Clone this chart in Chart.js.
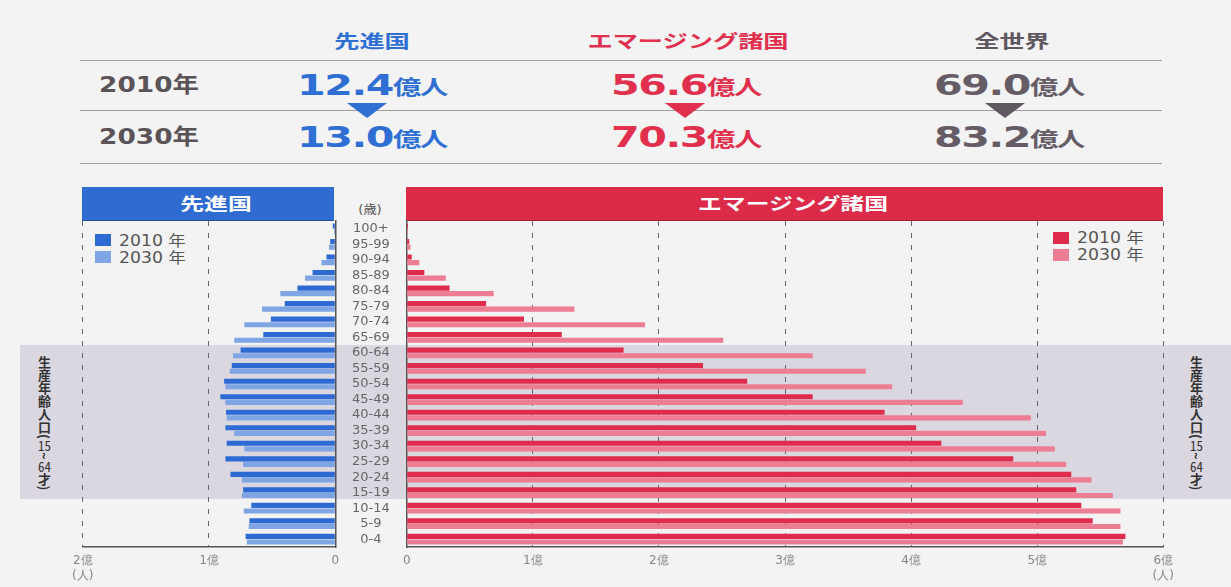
<!DOCTYPE html>
<html><head><meta charset="utf-8">
<script src="https://cdn.jsdelivr.net/npm/chart.js@4.4.1/dist/chart.umd.min.js"></script>
<style>
html,body{margin:0;padding:0;background:#f2f2f2;}
#wrap{position:relative;width:1231px;height:587px;overflow:hidden;background:#f3f3f3;font-family:"DejaVu Sans","Noto Sans CJK JP",sans-serif;}
.hl{position:absolute;left:80px;width:1082px;height:0;border-top:1.5px solid #a09ca0;}
.t{position:absolute;white-space:nowrap;transform:translate(-50%,-50%) scaleX(1.4);font-weight:bold;line-height:1;}
.num{font-size:29px;}
.unit{font-size:20px;}
.tri{position:absolute;width:0;height:0;border-left:20px solid transparent;border-right:20px solid transparent;border-top:15px solid #000;}
.band{position:absolute;left:20px;top:345px;width:1211px;height:154px;background:#dbd7e0;}
.hdr{position:absolute;top:187px;height:33px;border-bottom:1.5px solid rgba(0,0,0,0.25);}
.hdr span{position:absolute;top:50%;white-space:nowrap;color:#fff;font-weight:bold;font-size:17px;transform:translate(-50%,-50%) scaleX(1.4);line-height:1;}
.lg{position:absolute;width:16px;height:12px;}
.lt{position:absolute;white-space:nowrap;font-size:15px;color:#555;transform:translateY(-50%) scaleX(1.15);transform-origin:left center;line-height:1;}
.side{position:absolute;top:356px;writing-mode:vertical-rl;font-size:13px;font-weight:bold;color:#333;line-height:1;font-family:"Noto Sans CJK JP",sans-serif;}
.side .c{text-combine-upright:all;font-weight:normal;}
canvas{position:absolute;left:0;top:0;}
</style>
</head>
<body>
<div id="wrap">
  <div class="band"></div>

  <!-- top summary table -->
  <div class="t" style="left:372px;top:42px;font-size:18px;color:#2f6fd3;">先進国</div>
  <div class="t" style="left:688px;top:42px;font-size:18px;color:#e0304e;">エマージング諸国</div>
  <div class="t" style="left:1012px;top:42px;font-size:18px;color:#5f5860;">全世界</div>
  <div class="hl" style="top:60px;"></div>
  <div class="hl" style="top:110px;"></div>
  <div class="hl" style="top:163px;"></div>
  <div class="t" style="left:149px;top:85px;font-size:22px;color:#5a5358;transform:translate(-50%,-50%) scaleX(1.2);">2010年</div>
  <div class="t" style="left:149px;top:137px;font-size:22px;color:#5a5358;transform:translate(-50%,-50%) scaleX(1.2);">2030年</div>
  <div id="vals"></div>
  <div class="tri" style="left:347px;top:103px;border-top-color:#2f6fd3;"></div>
  <div class="tri" style="left:665px;top:103px;border-top-color:#e0304e;"></div>
  <div class="tri" style="left:985px;top:103px;border-top-color:#5f5860;"></div>

  <!-- panel headers -->
  <div class="hdr" style="left:82px;width:252px;background:#2f6cd2;"><span style="left:134px;">先進国</span></div>
  <div class="hdr" style="left:406px;width:757px;background:#dc2a49;"><span style="left:387px;">エマージング諸国</span></div>
  <div class="t" style="left:370px;top:210px;font-size:12px;font-weight:normal;color:#555;transform:translate(-50%,-50%) scaleX(1.1);">(歳)</div>

  <!-- legends -->
  <div class="lg" style="left:95px;top:234px;background:#2d6ad3;"></div>
  <div class="lt" style="left:119px;top:241px;">2010 年</div>
  <div class="lg" style="left:95px;top:251px;background:#7fa5e5;"></div>
  <div class="lt" style="left:119px;top:258px;">2030 年</div>
  <div class="lg" style="left:1053px;top:232px;background:#df2c4c;"></div>
  <div class="lt" style="left:1077px;top:238px;">2010 年</div>
  <div class="lg" style="left:1053px;top:249px;background:#ec7d93;"></div>
  <div class="lt" style="left:1077px;top:255px;">2030 年</div>

  <!-- side labels -->
  <div class="side" style="left:38px;">生産年齢人口(<span class="c">15</span>~<span class="c">64</span>才)</div>
  <div class="side" style="left:1190px;">生産年齢人口(<span class="c">15</span>~<span class="c">64</span>才)</div>

  <canvas id="cL" width="1231" height="587"></canvas>
  <canvas id="cR" width="1231" height="587"></canvas>
</div>
<script>
// ---- data ----
const ages = ['100+','95-99','90-94','85-89','80-84','75-79','70-74','65-69','60-64','55-59','50-54','45-49','40-44','35-39','30-34','25-29','20-24','15-19','10-14','5-9','0-4'];
// 先進国 (億人)
const adv2010 = [0.02,0.04,0.07,0.18,0.30,0.40,0.51,0.57,0.75,0.82,0.88,0.91,0.865,0.87,0.86,0.87,0.83,0.73,0.665,0.68,0.71];
const adv2030 = [0.01,0.05,0.11,0.24,0.435,0.58,0.72,0.80,0.81,0.835,0.87,0.87,0.86,0.80,0.72,0.73,0.74,0.74,0.725,0.685,0.70];
// エマージング諸国 (億人)
const emg2010 = [0.01,0.02,0.04,0.14,0.34,0.63,0.93,1.23,1.72,2.35,2.70,3.22,3.79,4.04,4.24,4.81,5.27,5.31,5.35,5.44,5.70];
const emg2030 = [0.01,0.03,0.10,0.31,0.69,1.33,1.89,2.51,3.22,3.64,3.85,4.41,4.95,5.07,5.14,5.23,5.43,5.60,5.66,5.66,5.68];
// summary table
const groups = ['先進国','エマージング諸国','全世界'];
const total2010 = ['12.4','56.6','69.0'];
const total2030 = ['13.0','70.3','83.2'];
// tick labels
const leftTickLabels = ['0','1億','2億'];
const rightTickLabels = ['0','1億','2億','3億','4億','5億','6億'];
const unitLabel = '(人)';

// ---- summary values ----
const colX = [372, 686, 1009];
const colC = ['#2f6fd3', '#e0304e', '#655c66'];
const vals = document.getElementById('vals');
[[total2010, 85], [total2030, 137]].forEach(([arr, y]) => {
  arr.forEach((v, i) => {
    const d = document.createElement('div');
    d.className = 't';
    d.style.cssText = `left:${colX[i]}px;top:${y}px;color:${colC[i]};transform:translate(-50%,-50%) scaleX(1.42);letter-spacing:-1px;`;
    d.innerHTML = `<span class="num">${v}</span><span class="unit">億人</span>`;
    vals.appendChild(d);
  });
});

// ---- charts ----
const W = 1231;
const FONT = '"DejaVu Sans", sans-serif';
const gridStyle = {color: '#666', lineWidth: 1, drawTicks: false};
const borderStyle = {display: true, color: '#555', width: 1.5, dash: [5, 7]};

function tickCb(labels, last) {
  return function(v) {
    const i = Math.round(v);
    if (i === last) return [labels[i], unitLabel];
    return labels[i];
  };
}

new Chart(document.getElementById('cL'), {
  type: 'bar',
  data: {labels: ages, datasets: [
    {label: '2010年', data: adv2010, backgroundColor: '#2d6ad3', categoryPercentage: 0.72, barPercentage: 0.92},
    {label: '2030年', data: adv2030, backgroundColor: '#7fa5e5', categoryPercentage: 0.72, barPercentage: 0.92}
  ]},
  options: {
    indexAxis: 'y', responsive: false, animation: false,
    layout: {padding: {left: 82.7, right: W - 335.3, top: 221, bottom: 4}},
    plugins: {legend: {display: false}, tooltip: {enabled: false}},
    scales: {
      x: {type: 'linear', reverse: true, min: 0, max: 2,
          ticks: {stepSize: 1, autoSkip: false, maxRotation: 0, padding: 6, color: '#858585',
                  font: {size: 12, family: FONT, lineHeight: 1.25}, callback: tickCb(leftTickLabels, 2)},
          grid: gridStyle, border: borderStyle,
          afterFit: s => { s.height = 36; }},
      y: {position: 'right', ticks: {display: false}, grid: {display: false, drawTicks: false},
          border: {display: true, color: '#555', width: 1.5},
          afterFit: s => { s.width = 0; }}
    }
  }
});

new Chart(document.getElementById('cR'), {
  type: 'bar',
  data: {labels: ages, datasets: [
    {label: '2010年', data: emg2010, backgroundColor: '#df2c4c', categoryPercentage: 0.72, barPercentage: 0.92},
    {label: '2030年', data: emg2030, backgroundColor: '#ec7d93', categoryPercentage: 0.72, barPercentage: 0.92}
  ]},
  options: {
    indexAxis: 'y', responsive: false, animation: false,
    layout: {padding: {left: 336.7, right: W - 1163.3, top: 221, bottom: 4}},
    plugins: {legend: {display: false}, tooltip: {enabled: false}},
    scales: {
      x: {type: 'linear', min: 0, max: 6,
          ticks: {stepSize: 1, autoSkip: false, maxRotation: 0, padding: 6, color: '#858585',
                  font: {size: 12, family: FONT, lineHeight: 1.25}, callback: tickCb(rightTickLabels, 6)},
          grid: gridStyle, border: borderStyle,
          afterFit: s => { s.height = 36; }},
      y: {position: 'left',
          ticks: {autoSkip: false, crossAlign: 'center', padding: 17, color: '#666', font: {size: 13, family: FONT}},
          grid: {display: false, drawTicks: false},
          border: {display: true, color: '#555', width: 1.5},
          afterFit: s => { s.width = 70; }}
    }
  }
});
</script>
</body></html>
